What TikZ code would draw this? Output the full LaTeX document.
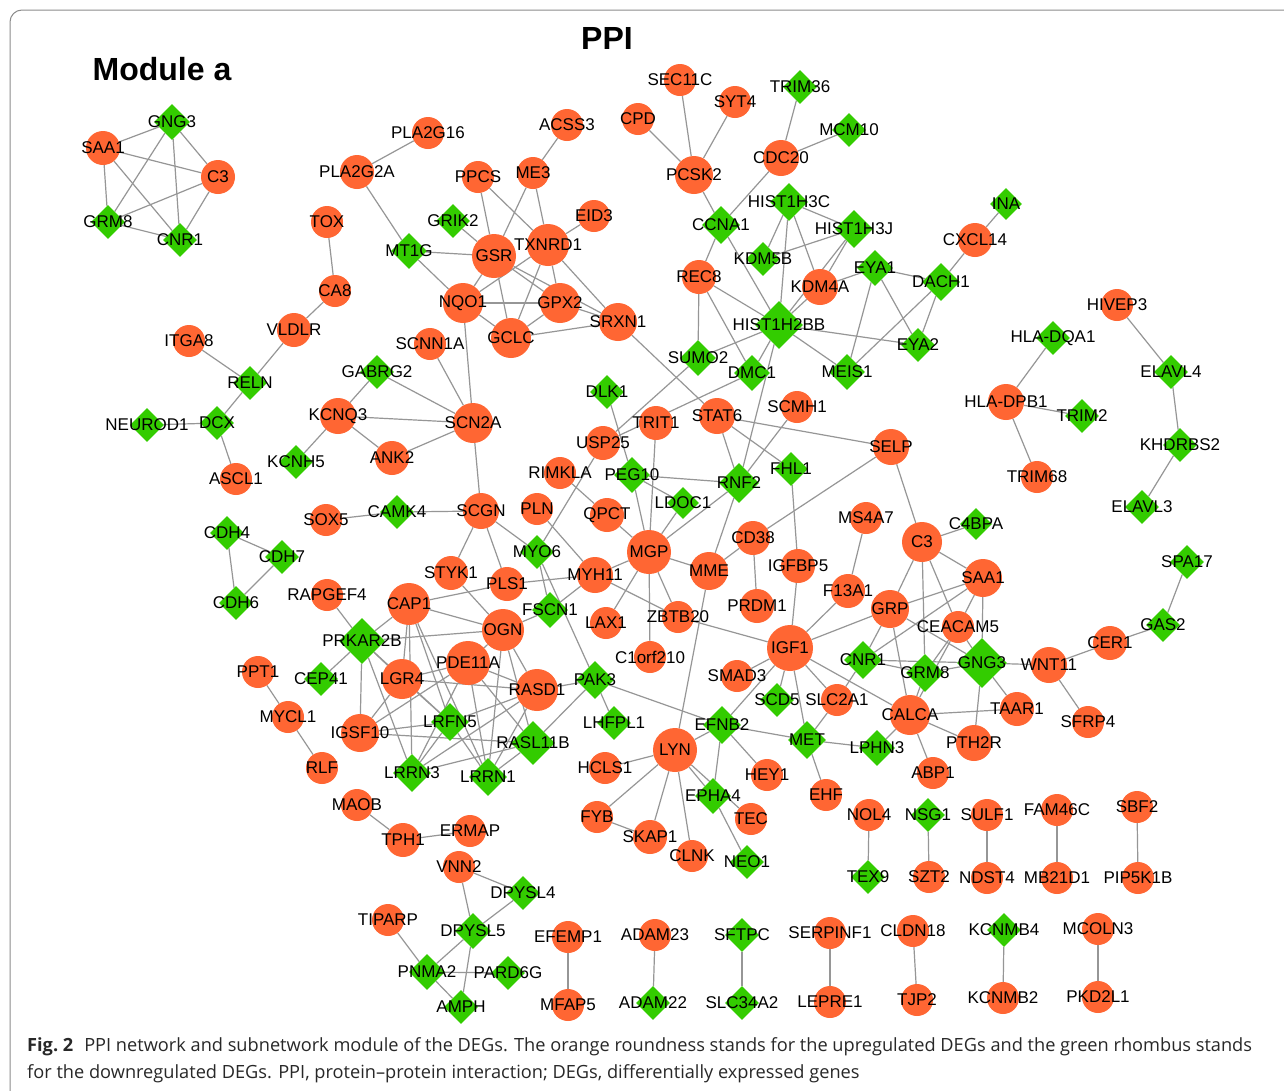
\documentclass[tikz,border=0pt]{standalone}
\usepackage{fontspec}
\usetikzlibrary{shapes.geometric}
\newfontfamily\labf{Liberation Sans}
\newfontfamily\capf{Open Sans}
\definecolor{orr}{RGB}{255,102,51}
\definecolor{grn}{RGB}{51,204,0}
\definecolor{edgec}{RGB}{150,150,150}
\definecolor{framec}{RGB}{140,140,140}
\definecolor{capc}{RGB}{40,40,40}
\pgfdeclarelayer{background}
\pgfsetlayers{background,main}
\tikzset{
  U/.style={circle,fill=orr,draw=none,minimum size=2*#1,inner sep=0pt},
  U/.default=16,
  D/.style={diamond,aspect=1,fill=grn,draw=none,minimum size=2*#1,inner sep=0pt},
  D/.default=17,
  every label/.style={font=\labf\fontsize{17}{18}\selectfont,text=black,inner sep=0pt},
  edge/.style={draw=edgec,line width=1.2pt}
}
\begin{document}
\begin{tikzpicture}[x=1pt,y=-1pt]
\useasboundingbox (0,0) rectangle (1284,1090);
\begin{pgfonlayer}{background}
\fill[white] (0,0) rectangle (1284,1090);
\end{pgfonlayer}
\draw[framec,line width=1pt,rounded corners=12pt] (10,10) rectangle (1300,1110);
\node[font=\labf\bfseries\fontsize{32}{36}\selectfont] (title) at (607,38) {PPI};
\node[font=\labf\bfseries\fontsize{32}{36}\selectfont] (modA) at (162,69) {Module a};
% left K5
\node[U=17,label=center:SAA1] (SAA1a) at (103,148) {};
\node[D=18,label=center:GNG3] (GNG3a) at (172,122) {};
\node[U=17,label=center:C3] (C3a) at (218,177) {};
\node[D=17,label=center:GRM8] (GRM8a) at (108,222) {};
\node[D=17,label=center:CNR1] (CNR1a) at (180,240) {};
% left region
\node[U,label=center:PLA2G16] (PLA2G16) at (428,133) {};
\node[U=17,label=center:PLA2G2A] (PLA2G2A) at (357,172) {};
\node[U,label=center:TOX] (TOX) at (327,222) {};
\node[U,label=center:CA8] (CA8) at (335,291) {};
\node[U=17,label=center:VLDLR] (VLDLR) at (294,330) {};
\node[U,label=center:ITGA8] (ITGA8) at (189,341) {};
\node[D,label=center:RELN] (RELN) at (250,383) {};
\node[D,label=center:GABRG2] (GABRG2) at (377,372) {};
\node[U,label=center:SCNN1A] (SCNN1A) at (430,344) {};
\node[D,label=center:NEUROD1] (NEUROD1) at (147,425) {};
\node[D,label=center:DCX] (DCX) at (217,423) {};
\node[U,label=center:ASCL1] (ASCL1) at (236,479) {};
\node[U=18,label=center:KCNQ3] (KCNQ3) at (338,416) {};
\node[D,label=center:KCNH5] (KCNH5) at (296,462) {};
\node[U=17,label=center:ANK2] (ANK2) at (392,458) {};
\node[U=20,label=center:SCN2A] (SCN2A) at (473,423) {};
\node[U,label=center:SOX5] (SOX5) at (326,520) {};
\node[D,label=center:CAMK4] (CAMK4) at (397,512) {};
\node[D,label=center:CDH4] (CDH4) at (227,533) {};
\node[D,label=center:CDH7] (CDH7) at (282,557) {};
\node[D,label=center:CDH6] (CDH6) at (236,603) {};
\node[U,label=center:RAPGEF4] (RAPGEF4) at (327,595) {};
\node[D=23,label=center:PRKAR2B] (PRKAR2B) at (362,641) {};
\node[U,label=center:PPT1] (PPT1) at (258,672) {};
\node[D,label=center:CEP41] (CEP41) at (321,679) {};
\node[U,label=center:MYCL1] (MYCL1) at (288,717) {};
\node[U,label=center:RLF] (RLF) at (322,768) {};
\node[U,label=center:MAOB] (MAOB) at (357,805) {};
\node[U=17,label=center:TPH1] (TPH1) at (403,840) {};
\node[U,label=center:ERMAP] (ERMAP) at (470,831) {};
\node[U,label=center:VNN2] (VNN2) at (459,867) {};
\node[D,label=center:DPYSL4] (DPYSL4) at (523,893) {};
\node[U,label=center:TIPARP] (TIPARP) at (388,920) {};
\node[D=18,label=center:DPYSL5] (DPYSL5) at (473,931) {};
\node[D=18,label=center:PNMA2] (PNMA2) at (427,972) {};
\node[D,label=center:PARD6G] (PARD6G) at (508,973) {};
\node[D,label=center:AMPH] (AMPH) at (461,1007) {};
\node[U,label=center:EFEMP1] (EFEMP1) at (568,937) {};
\node[U,label=center:MFAP5] (MFAP5) at (568,1005) {};
\node[U,label=center:ADAM23] (ADAM23) at (655,935) {};
\node[D,label=center:ADAM22] (ADAM22) at (653,1003) {};
\node[D,label=center:SFTPC] (SFTPC) at (742,935) {};
\node[D,label=center:SLC34A2] (SLC34A2) at (742,1003) {};
\node[U,label=center:SERPINF1] (SERPINF1) at (830,933) {};
\node[U,label=center:LEPRE1] (LEPRE1) at (830,1002) {};
\node[U,label=center:CLDN18] (CLDN18) at (913,931) {};
\node[U,label=center:TJP2] (TJP2) at (917,1000) {};
\node[D,label=center:KCNMB4] (KCNMB4) at (1004,930) {};
\node[U,label=center:KCNMB2] (KCNMB2) at (1003,998) {};
\node[U,label=center:MCOLN3] (MCOLN3) at (1098,929) {};
\node[U,label=center:PKD2L1] (PKD2L1) at (1098,997) {};
\node[U,label=center:SULF1] (SULF1) at (987,815) {};
\node[U,label=center:NDST4] (NDST4) at (987,878) {};
\node[U,label=center:FAM46C] (FAM46C) at (1057,810) {};
\node[U,label=center:MB21D1] (MB21D1) at (1057,878) {};
\node[U,label=center:SBF2] (SBF2) at (1137,807) {};
\node[U,label=center:PIP5K1B] (PIP5K1B) at (1138,878) {};
\node[U,label=center:NOL4] (NOL4) at (869,815) {};
\node[D,label=center:TEX9] (TEX9) at (868,877) {};
\node[D,label=center:NSG1] (NSG1) at (928,815) {};
\node[U,label=center:SZT2] (SZT2) at (929,877) {};
% top cluster
\node[U,label=center:PPCS] (PPCS) at (478,177) {};
\node[U,label=center:ME3] (ME3) at (533,173) {};
\node[U,label=center:ACSS3] (ACSS3) at (567,125) {};
\node[U,label=center:EID3] (EID3) at (594,216) {};
\node[D,label=center:GRIK2] (GRIK2) at (453,221) {};
\node[D=18,label=center:MT1G] (MT1G) at (409,251) {};
\node[U=22,label=center:GSR] (GSR) at (494,256) {};
\node[U=21,label=center:TXNRD1] (TXNRD1) at (548,245) {};
\node[U=20,label=center:NQO1] (NQO1) at (463,303) {};
\node[U=20,label=center:GPX2] (GPX2) at (560,303) {};
\node[U=20,label=center:GCLC] (GCLC) at (511,338) {};
\node[U=19,label=center:SRXN1] (SRXN1) at (618,322) {};
\node[U,label=center:CPD] (CPD) at (638,119) {};
\node[U,label=center:SEC11C] (SEC11C) at (680,80) {};
\node[U,label=center:SYT4] (SYT4) at (735,102) {};
\node[U=19,label=center:PCSK2] (PCSK2) at (694,175) {};
\node[D,label=center:TRIM36] (TRIM36) at (800,87) {};
\node[D,label=center:MCM10] (MCM10) at (849,130) {};
\node[U=18,label=center:CDC20] (CDC20) at (781,158) {};
\node[D=19,label=center:HIST1H3C] (HIST1H3C) at (789,202) {};
\node[D=19,label=center:CCNA1] (CCNA1) at (721,225) {};
\node[D=19,label=center:HIST1H3J] (HIST1H3J) at (854,229) {};
\node[D,label=center:KDM5B] (KDM5B) at (763,259) {};
\node[U=17,label=center:REC8] (REC8) at (699,277) {};
\node[U=18,label=center:KDM4A] (KDM4A) at (820,287) {};
\node[D=18,label=center:EYA1] (EYA1) at (875,268) {};
\node[D=19,label=center:DACH1] (DACH1) at (941,282) {};
\node[U=17,label=center:CXCL14] (CXCL14) at (975,240) {};
\node[D=16,label=center:INA] (INA) at (1006,204) {};
\node[D=24,label=center:HIST1H2BB] (HIST1H2BB) at (779,325) {};
\node[D,label=center:EYA2] (EYA2) at (918,345) {};
\node[D=18,label=center:SUMO2] (SUMO2) at (698,358) {};
\node[D=18,label=center:DMC1] (DMC1) at (752,373) {};
\node[D=18,label=center:MEIS1] (MEIS1) at (847,372) {};
\node[U,label=center:HIVEP3] (HIVEP3) at (1117,305) {};
\node[D,label=center:HLA-DQA1] (HLADQA1) at (1053,338) {};
\node[D,label=center:ELAVL4] (ELAVL4) at (1171,372) {};
\node[U=18,label=center:HLA-DPB1] (HLADPB1) at (1006,402) {};
\node[D,label=center:TRIM2] (TRIM2) at (1082,416) {};
\node[D,label=center:KHDRBS2] (KHDRBS2) at (1180,445) {};
\node[U,label=center:TRIM68] (TRIM68) at (1037,477) {};
\node[D,label=center:ELAVL3] (ELAVL3) at (1142,507) {};
\node[D,label=center:SPA17] (SPA17) at (1187,562) {};
\node[D,label=center:GAS2] (GAS2) at (1163,625) {};
\node[U=17,label=center:CER1] (CER1) at (1110,643) {};
\node[U=18,label=center:WNT11] (WNT11) at (1049,665) {};
\node[U,label=center:SFRP4] (SFRP4) at (1088,722) {};
\node[U=17,label=center:TAAR1] (TAAR1) at (1017,709) {};
\node[U=18,label=center:PTH2R] (PTH2R) at (974,743) {};
% middle
\node[D,label=center:DLK1] (DLK1) at (607,392) {};
\node[U=17,label=center:TRIT1] (TRIT1) at (656,423) {};
\node[U=17,label=center:USP25] (USP25) at (603,443) {};
\node[U=18,label=center:STAT6] (STAT6) at (717,416) {};
\node[U,label=center:SCMH1] (SCMH1) at (797,407) {};
\node[U=18,label=center:SELP] (SELP) at (891,447) {};
\node[D,label=center:FHL1] (FHL1) at (791,469) {};
\node[D=20,label=center:RNF2] (RNF2) at (739,483) {};
\node[D=18,label=center:PEG10] (PEG10) at (632,475) {};
\node[U,label=center:RIMKLA] (RIMKLA) at (560,473) {};
\node[D=16,label=center:LDOC1] (LDOC1) at (683,503) {};
\node[U=17,label=center:QPCT] (QPCT) at (607,515) {};
\node[U,label=center:PLN] (PLN) at (537,509) {};
\node[U=18,label=center:SCGN] (SCGN) at (481,511) {};
\node[D,label=center:MYO6] (MYO6) at (537,552) {};
\node[U=22,label=center:MGP] (MGP) at (649,552) {};
\node[U=19,label=center:MME] (MME) at (709,571) {};
\node[U=17,label=center:CD38] (CD38) at (753,538) {};
\node[U,label=center:MS4A7] (MS4A7) at (866,518) {};
\node[U=20,label=center:C3] (C3) at (922,542) {};
\node[D=16,label=center:C4BPA] (C4BPA) at (976,524) {};
\node[U=19,label=center:SAA1] (SAA1) at (983,578) {};
\node[U=17,label=center:IGFBP5] (IGFBP5) at (798,566) {};
\node[U=17,label=center:F13A1] (F13A1) at (848,591) {};
\node[U=17,label=center:PRDM1] (PRDM1) at (757,606) {};
\node[U=19,label=center:GRP] (GRP) at (890,609) {};
\node[U,label=center:CEACAM5] (CEACAM5) at (958,627) {};
\node[U=23,label=center:IGF1] (IGF1) at (790,648) {};
\node[D=19,label=center:CNR1] (CNR1) at (863,660) {};
\node[D=19,label=center:GRM8] (GRM8) at (925,673) {};
\node[D=25,label=center:GNG3] (GNG3) at (982,663) {};
\node[U,label=center:SMAD3] (SMAD3) at (737,676) {};
\node[D,label=center:SCD5] (SCD5) at (777,700) {};
\node[U,label=center:SLC2A1] (SLC2A1) at (837,700) {};
\node[U=20,label=center:CALCA] (CALCA) at (910,715) {};
\node[U,label=center:ABP1] (ABP1) at (933,773) {};
\node[D=18,label=center:LPHN3] (LPHN3) at (877,748) {};
\node[D=19,label=center:MET] (MET) at (807,740) {};
\node[U,label=center:EHF] (EHF) at (826,795) {};
\node[D=19,label=center:EFNB2] (EFNB2) at (722,725) {};
\node[U,label=center:HEY1] (HEY1) at (767,775) {};
\node[D=18,label=center:EPHA4] (EPHA4) at (713,796) {};
\node[U,label=center:TEC] (TEC) at (751,819) {};
\node[U=22,label=center:LYN] (LYN) at (675,750) {};
\node[U,label=center:CLNK] (CLNK) at (692,856) {};
\node[D,label=center:NEO1] (NEO1) at (747,862) {};
\node[U,label=center:FYB] (FYB) at (597,817) {};
\node[U=17,label=center:SKAP1] (SKAP1) at (650,837) {};
\node[U,label=center:HCLS1] (HCLS1) at (605,768) {};
\node[D,label=center:LHFPL1] (LHFPL1) at (614,723) {};
\node[U,label=center:ZBTB20] (ZBTB20) at (678,617) {};
\node[U,label=center:C1orf210] (C1orf210) at (650,657) {};
\node[U,label=center:LAX1] (LAX1) at (606,623) {};
\node[U=18,label=center:MYH11] (MYH11) at (595,575) {};
\node[U=17,label=center:PLS1] (PLS1) at (507,584) {};
\node[U=17,label=center:STYK1] (STYK1) at (451,573) {};
\node[D=18,label=center:FSCN1] (FSCN1) at (550,610) {};
\node[U=21,label=center:CAP1] (CAP1) at (409,604) {};
\node[U=21,label=center:OGN] (OGN) at (503,630) {};
\node[U=22,label=center:PDE11A] (PDE11A) at (468,663) {};
\node[U=20,label=center:LGR4] (LGR4) at (402,679) {};
\node[U=21,label=center:RASD1] (RASD1) at (537,690) {};
\node[D=19,label=center:PAK3] (PAK3) at (595,680) {};
\node[U=19,label=center:IGSF10] (IGSF10) at (360,733) {};
\node[D=19,label=center:LRFN5] (LRFN5) at (450,722) {};
\node[D=22,label=center:RASL11B] (RASL11B) at (533,743) {};
\node[D=19,label=center:LRRN3] (LRRN3) at (412,773) {};
\node[D=19,label=center:LRRN1] (LRRN1) at (488,777) {};
% edges
\begin{pgfonlayer}{background}
\foreach \a/\b in {SAA1a/GNG3a,SAA1a/C3a,SAA1a/GRM8a,SAA1a/CNR1a,GNG3a/C3a,GNG3a/GRM8a,GNG3a/CNR1a,C3a/GRM8a,C3a/CNR1a,GRM8a/CNR1a,
PLA2G16/PLA2G2A,PLA2G2A/MT1G,TOX/CA8,CA8/VLDLR,VLDLR/RELN,ITGA8/RELN,RELN/DCX,NEUROD1/DCX,DCX/ASCL1,GABRG2/KCNQ3,GABRG2/SCN2A,KCNQ3/KCNH5,KCNQ3/ANK2,KCNQ3/SCN2A,ANK2/SCN2A,SCNN1A/SCN2A,NQO1/SCN2A,SCN2A/SCGN,SOX5/CAMK4,CAMK4/SCGN,CDH4/CDH7,CDH4/CDH6,CDH7/CDH6,RAPGEF4/PRKAR2B,CEP41/PRKAR2B,PPT1/MYCL1,MYCL1/RLF,MAOB/TPH1,TPH1/ERMAP,VNN2/DPYSL4,VNN2/DPYSL5,DPYSL4/DPYSL5,DPYSL5/PNMA2,DPYSL5/AMPH,TIPARP/PNMA2,PNMA2/PARD6G,PNMA2/AMPH,EFEMP1/MFAP5,ADAM23/ADAM22,SFTPC/SLC34A2,SERPINF1/LEPRE1,CLDN18/TJP2,KCNMB4/KCNMB2,MCOLN3/PKD2L1,SULF1/NDST4,FAM46C/MB21D1,SBF2/PIP5K1B,NOL4/TEX9,NSG1/SZT2,
ACSS3/ME3,PPCS/GSR,PPCS/TXNRD1,ME3/GSR,ME3/TXNRD1,EID3/TXNRD1,GRIK2/GSR,MT1G/GSR,MT1G/NQO1,GSR/NQO1,GSR/GPX2,GSR/GCLC,GSR/SRXN1,TXNRD1/NQO1,TXNRD1/GPX2,TXNRD1/GCLC,TXNRD1/SRXN1,NQO1/GPX2,NQO1/GCLC,GPX2/GCLC,GPX2/SRXN1,GCLC/SRXN1,SRXN1/STAT6,
CPD/PCSK2,SEC11C/PCSK2,SYT4/PCSK2,PCSK2/CCNA1,TRIM36/CDC20,MCM10/CDC20,CDC20/CCNA1,HIST1H3C/HIST1H3J,HIST1H3C/KDM5B,HIST1H3C/HIST1H2BB,HIST1H3C/KDM4A,HIST1H3J/KDM5B,HIST1H3J/KDM4A,HIST1H3J/HIST1H2BB,CCNA1/REC8,CCNA1/HIST1H2BB,REC8/HIST1H2BB,REC8/SUMO2,REC8/DMC1,KDM4A/HIST1H2BB,EYA1/KDM4A,EYA1/DACH1,EYA1/EYA2,EYA1/MEIS1,DACH1/EYA2,DACH1/MEIS1,DACH1/CXCL14,CXCL14/INA,HIST1H2BB/EYA2,HIST1H2BB/MEIS1,HIST1H2BB/SUMO2,HIST1H2BB/DMC1,HIST1H2BB/RNF2,
HIVEP3/ELAVL4,ELAVL4/KHDRBS2,KHDRBS2/ELAVL3,HLADQA1/HLADPB1,HLADPB1/TRIM2,HLADPB1/TRIM68,SPA17/GAS2,GAS2/CER1,CER1/WNT11,WNT11/GNG3,WNT11/SFRP4,
DLK1/PEG10,USP25/DMC1,SUMO2/USP25,MYO6/USP25,RIMKLA/QPCT,QPCT/MGP,PEG10/MGP,TRIT1/MGP,PEG10/RNF2,PEG10/LDOC1,LDOC1/MGP,MGP/RNF2,MGP/MYH11,MGP/MME,MGP/ZBTB20,MGP/LAX1,MGP/C1orf210,STAT6/SELP,STAT6/RNF2,STAT6/FHL1,SCMH1/RNF2,RNF2/MME,SELP/CD38,CD38/MME,CD38/PRDM1,FHL1/IGFBP5,IGFBP5/IGF1,MS4A7/F13A1,F13A1/IGF1,SELP/C3,C3/C4BPA,C3/GRP,C3/SAA1,C3/CEACAM5,C3/GRM8,GRP/SAA1,GRP/IGF1,GRP/CNR1,GRP/GNG3,GRP/CALCA,SAA1/CNR1,SAA1/GNG3,SAA1/CEACAM5,CEACAM5/GRM8,CEACAM5/CALCA,CEACAM5/GNG3,CNR1/GRM8,CNR1/GNG3,CNR1/SLC2A1,GRM8/GNG3,GRM8/CALCA,GNG3/TAAR1,GNG3/PTH2R,IGF1/SMAD3,IGF1/SCD5,IGF1/SLC2A1,IGF1/CALCA,IGF1/ZBTB20,IGF1/MET,IGF1/EFNB2,CALCA/TAAR1,CALCA/PTH2R,CALCA/ABP1,LPHN3/CALCA,MET/LPHN3,MET/EHF,MET/SLC2A1,EFNB2/MET,EFNB2/HEY1,EFNB2/EPHA4,EFNB2/LYN,PAK3/EFNB2,LYN/EPHA4,LYN/TEC,EPHA4/NEO1,LYN/CLNK,LYN/HCLS1,LYN/FYB,LYN/SKAP1,FYB/SKAP1,LYN/MME,PAK3/LHFPL1,RASL11B/PAK3,LRRN1/RASD1,RASD1/PAK3,SCGN/STYK1,SCGN/PLS1,SCGN/MYO6,MYO6/FSCN1,MYO6/PAK3,PLN/MYH11,CAP1/PLS1,PLS1/MYH11,MYH11/ZBTB20,MYH11/FSCN1,STYK1/OGN,OGN/FSCN1,CAP1/OGN,OGN/PRKAR2B,OGN/PDE11A,OGN/RASD1,
CAP1/PRKAR2B,CAP1/LGR4,CAP1/LRRN3,CAP1/LRFN5,CAP1/LRRN1,PRKAR2B/LGR4,PRKAR2B/IGSF10,PRKAR2B/LRRN3,PRKAR2B/LRFN5,LGR4/PDE11A,LGR4/RASD1,LGR4/IGSF10,LGR4/LRFN5,PDE11A/IGSF10,PDE11A/LRRN3,PDE11A/LRRN1,PDE11A/RASL11B,PDE11A/RASD1,OGN/LRRN1,OGN/RASL11B,RASD1/LRFN5,RASD1/LRRN3,IGSF10/LRFN5,IGSF10/RASL11B,LRRN3/LRFN5,LRRN3/RASL11B,LRRN1/LRFN5,LRRN1/RASL11B}
  \draw[edge] (\a) -- (\b);
\end{pgfonlayer}
% caption
\node[anchor=base west,inner sep=0pt,font=\capf\fontsize{18.2}{20}\selectfont,text=capc] (cap1) at (27,1051) {{\bfseries Fig.~2}\hspace{0.6em}PPI network and subnetwork module of the DEGs. The orange roundness stands for the upregulated DEGs and the green rhombus stands};
\node[anchor=base west,inner sep=0pt,font=\capf\fontsize{18.2}{20}\selectfont,text=capc] (cap2) at (27,1078) {for the downregulated DEGs. PPI, protein–protein interaction; DEGs, differentially expressed genes};
\end{tikzpicture}
\end{document}
